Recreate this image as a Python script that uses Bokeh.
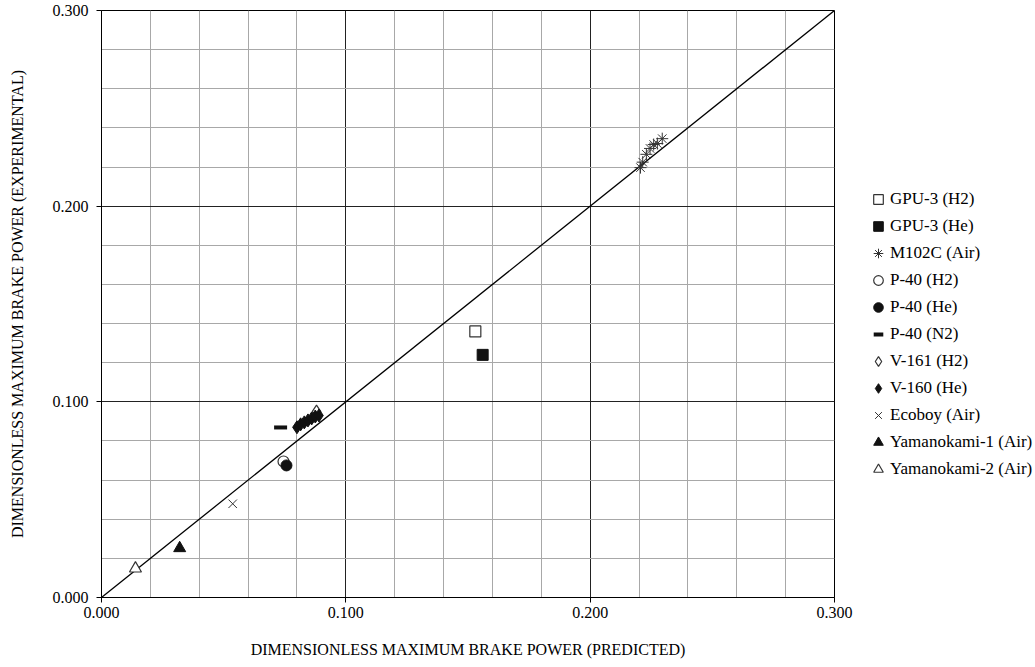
from bokeh.plotting import figure
from bokeh.layouts import row
from bokeh.models import Range1d, FixedTicker, NumeralTickFormatter, Legend, LegendItem
from bokeh.embed import file_html
from bokeh.resources import INLINE

# ---- data (dimensionless max brake power: predicted, experimental) ----
gpu3_h2_x = [0.153]
gpu3_h2_y = [0.136]
gpu3_he_x = [0.156]
gpu3_he_y = [0.124]
m102c_x = [0.2206, 0.2215, 0.2230, 0.2245, 0.2260, 0.2275, 0.2295]
m102c_y = [0.2197, 0.2225, 0.2265, 0.2295, 0.2315, 0.2320, 0.2345]
p40_h2_x = [0.0745]
p40_h2_y = [0.0695]
p40_he_x = [0.0757]
p40_he_y = [0.0675]
p40_n2_x = [0.0733]
p40_n2_y = [0.0869]
v161_h2_x = [0.0880]
v161_h2_y = [0.0950]
v160_he_x = [0.0800, 0.0815, 0.0830, 0.0845, 0.0860, 0.0875, 0.0890]
v160_he_y = [0.0870, 0.0885, 0.0895, 0.0905, 0.0915, 0.0925, 0.0930]
ecoboy_x = [0.0537]
ecoboy_y = [0.0479]
yama1_x = [0.0320]
yama1_y = [0.0252]
yama2_x = [0.0139]
yama2_y = [0.0148]
parity = [0.0, 0.3]

x_ticks = [0.0, 0.1, 0.2, 0.3]
minor_ticks = [0.02, 0.04, 0.06, 0.08, 0.12, 0.14, 0.16, 0.18, 0.22, 0.24, 0.26, 0.28]

labels = ["GPU-3 (H2)", "GPU-3 (He)", "M102C (Air)", "P-40 (H2)", "P-40 (He)", "P-40 (N2)",
          "V-161 (H2)", "V-160 (He)", "Ecoboy (Air)", "Yamanokami-1 (Air)", "Yamanokami-2 (Air)"]

FONT = "Liberation Serif"
H = 667

p = figure(width=860, height=H, output_backend="svg", toolbar_location=None,
           x_range=Range1d(0, 0.3), y_range=Range1d(0, 0.3),
           min_border_left=101, min_border_top=10, min_border_bottom=H - 10 - 587,
           min_border_right=26)
p.outline_line_color = "black"
p.outline_line_width = 1

for ax in (p.xaxis[0], p.yaxis[0]):
    ax.ticker = FixedTicker(ticks=x_ticks, minor_ticks=minor_ticks)
    ax.formatter = NumeralTickFormatter(format="0.000")
    ax.major_label_text_font = FONT
    ax.major_label_text_font_size = "16px"
    ax.major_label_text_color = "black"
    ax.axis_label_text_font = FONT
    ax.axis_label_text_font_size = "16px"
    ax.axis_label_text_font_style = "normal"
    ax.axis_label_text_color = "black"
    ax.axis_line_color = "black"
    ax.major_tick_line_color = "black"
    ax.major_tick_out = 5
    ax.major_tick_in = 0
    ax.minor_tick_line_color = None
p.xaxis.axis_label = "DIMENSIONLESS MAXIMUM BRAKE POWER (PREDICTED)"
p.yaxis.axis_label = "DIMENSIONLESS MAXIMUM BRAKE POWER (EXPERIMENTAL)"
p.xaxis.major_label_standoff = 4
p.yaxis.major_label_standoff = 8
p.xaxis.axis_label_standoff = 20
p.yaxis.axis_label_standoff = 24

for g in (p.xgrid[0], p.ygrid[0]):
    g.ticker = FixedTicker(ticks=x_ticks, minor_ticks=minor_ticks)
    g.grid_line_color = "#222222"
    g.grid_line_width = 1
    g.minor_grid_line_color = "#a8a8a8"
    g.minor_grid_line_width = 1

p.line(parity, parity, line_color="black", line_width=1.3)

styles = [
    dict(marker="square", size=11, fill_color="white", line_color="#333333", line_width=1.2),
    dict(marker="square", size=11, fill_color="#111111", line_color="#111111"),
    dict(marker="asterisk", size=12, line_color="#333333", line_width=1),
    dict(marker="circle", size=11, fill_color="white", line_color="#333333", line_width=1.2),
    dict(marker="circle", size=11, fill_color="#111111", line_color="#111111"),
    dict(marker="dash", size=13, line_color="#111111", line_width=4),
    dict(marker="diamond", size=13, fill_color="white", line_color="#333333", line_width=1.2),
    dict(marker="diamond", size=13, fill_color="#111111", line_color="#111111"),
    dict(marker="x", size=12, line_color="#333333", line_width=1),
    dict(marker="triangle", size=12, fill_color="#111111", line_color="#111111"),
    dict(marker="triangle", size=12, fill_color="white", line_color="#333333", line_width=1.2),
]
series = [(gpu3_h2_x, gpu3_h2_y), (gpu3_he_x, gpu3_he_y), (m102c_x, m102c_y),
          (p40_h2_x, p40_h2_y), (p40_he_x, p40_he_y), (p40_n2_x, p40_n2_y),
          (v161_h2_x, v161_h2_y), (v160_he_x, v160_he_y), (ecoboy_x, ecoboy_y),
          (yama1_x, yama1_y), (yama2_x, yama2_y)]
for (xs, ys), st in zip(series, styles):
    p.scatter(xs, ys, **st)

# ---- legend panel (separate canvas right of the plot; its ranges exclude the data) ----
leg = figure(width=1035 - 860, height=H, output_backend="svg", toolbar_location=None,
             x_axis_type=None, y_axis_type=None, min_border=0,
             x_range=Range1d(10, 11), y_range=Range1d(10, 11))
leg.outline_line_color = None
leg.grid.visible = False
legend_rends = [leg.scatter(xs, ys, **st) for (xs, ys), st in zip(series, styles)]
legend = Legend(items=[LegendItem(label=l, renderers=[r]) for l, r in zip(labels, legend_rends)],
                location=(6, 115), orientation="vertical",
                label_text_font=FONT, label_text_font_size="17px", label_text_color="black",
                glyph_width=24, glyph_height=26, label_height=20, spacing=1,
                label_standoff=0, padding=0, margin=0,
                border_line_color=None, background_fill_alpha=0)
leg.add_layout(legend, "center")

open("out.html", "w").write(file_html(row(p, leg), INLINE))
